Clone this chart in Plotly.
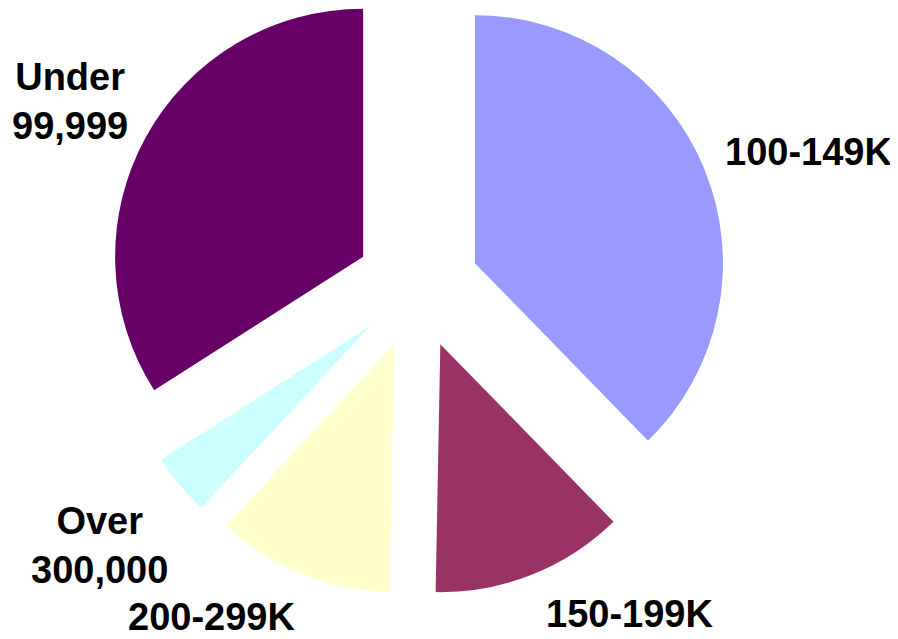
import math
import plotly.graph_objects as go

# ---- data ----
labels = ["100-149K", "150-199K", "200-299K", "Over 300,000", "Under 99,999"]
values = [37.7, 12.6, 11.6, 4.05, 34.05]
colors = ["#9999FF", "#993366", "#FFFFCC", "#CCFFFF", "#660066"]
label_text = ["100-149K", "150-199K", "200-299K", "Over<br>300,000", "Under<br>99,999"]

# ---- layout geometry ----
OFF = 8                      # page body margin
W, H = 898 - OFF, 639 - OFF  # figure size that fits the window
center_x, center_y = 417.5 - OFF, 286.5 - OFF   # pie centre, px in figure
radius = 248.0                      # px
pull = 0.25                         # fraction of radius each slice is exploded


def clamp(v):
    return min(1.0, max(0.0, v))


fig = go.Figure()
total = sum(values)
cum = 0.0
for i, v in enumerate(values):
    mid = (cum + v / 2) / total * 2 * math.pi  # clockwise from 12 o'clock
    cum += v
    ax = center_x + pull * radius * math.sin(mid)
    ay = center_y - pull * radius * math.cos(mid)
    slice_colors = [c if j == i else "rgba(0,0,0,0)" for j, c in enumerate(colors)]
    fig.add_trace(go.Pie(
        labels=labels,
        values=values,
        sort=False,
        direction="clockwise",
        rotation=0,
        marker=dict(colors=slice_colors, line=dict(width=0)),
        textinfo="none",
        hoverinfo="label+percent",
        showlegend=False,
        domain=dict(x=[clamp((ax - radius) / W), clamp((ax + radius) / W)],
                    y=[clamp(1 - (ay + radius) / H), clamp(1 - (ay - radius) / H)]),
    ))

# label positions (window px)
label_pos = [(808, 152), (629, 614), (211, 617), (99, 545), (70, 101)]
font = dict(family="Liberation Sans, Arial, sans-serif", size=38, color="#000000")
for txt, (px, py) in zip(label_text, label_pos):
    fig.add_annotation(
        x=(px - OFF) / W, y=1 - (py - OFF) / H, xref="paper", yref="paper",
        text="<b>" + txt + "</b>", showarrow=False,
        xanchor="center", yanchor="middle", align="center", font=font,
    )

fig.update_layout(
    width=W, height=H,
    margin=dict(l=0, r=0, t=0, b=0),
    paper_bgcolor="white", plot_bgcolor="white",
)

fig.write_html("out.html")
